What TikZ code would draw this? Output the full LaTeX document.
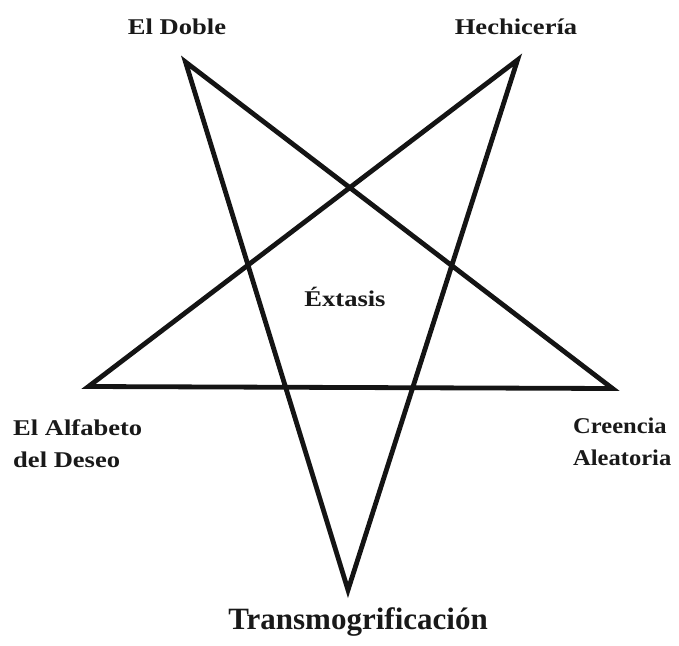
\documentclass[tikz,border=0pt]{standalone}
\usepackage{fontspec}
\setmainfont{Liberation Serif}
\usepackage{graphicx}
\newcommand{\smlab}[1]{\scalebox{1.18}[1]{\fontsize{22.5}{32}\selectfont\bfseries #1}}
\newcommand{\rlab}[1]{\scalebox{1.09}[1]{\fontsize{22.5}{32}\selectfont\bfseries #1}}
\begin{document}
\begin{tikzpicture}[x=1pt,y=-1pt,
  star/.style={line width=4.8pt,line join=miter,draw=black!92},
  lab/.style={inner sep=0pt,text=black!90}]
\useasboundingbox (0,0) rectangle (679,645);
\coordinate (tl) at (185.5,62);
\coordinate (tr) at (517.5,60);
\coordinate (l) at (88.5,386.5);
\coordinate (r) at (612.5,388.5);
\coordinate (b) at (348,590);
\draw[star] (tl) -- (b) -- (tr) -- (l) -- (r) -- cycle;
\node[lab] (doble) at (177,27) {\smlab{El Doble}};
\node[lab] (hech) at (516,27) {\smlab{Hechicería}};
\node[lab] (ext) at (345,297) {\smlab{Éxtasis}};
\node[lab,anchor=north west] (alf) at (13,413) {\smlab{\begin{tabular}{@{}l@{}}El Alfabeto\\del Deseo\end{tabular}}};
\node[lab,anchor=north west] (cre) at (573,411) {\rlab{\begin{tabular}{@{}l@{}}Creencia\\Aleatoria\end{tabular}}};
\node[lab] (trans) at (358,622) {\fontsize{31}{36}\selectfont\bfseries Transmogrificación};
\end{tikzpicture}
\end{document}
